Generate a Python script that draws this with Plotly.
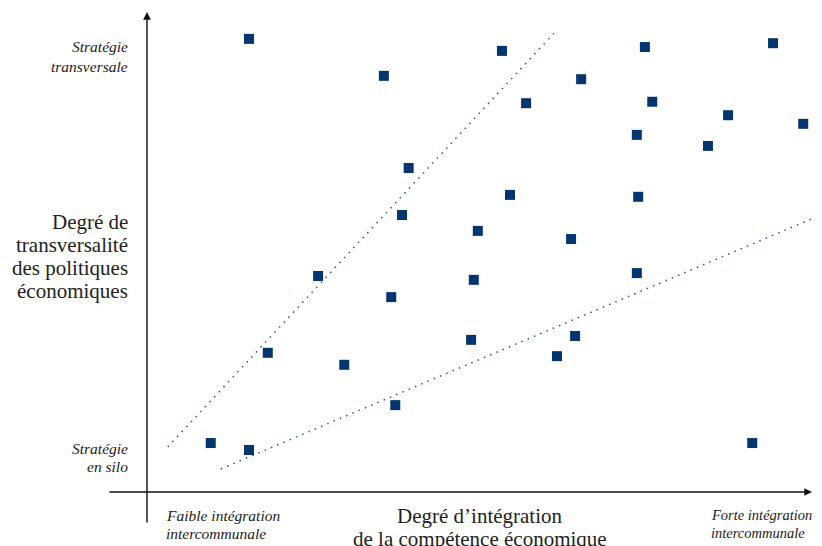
import plotly.graph_objects as go

# Point data (0-100 scale on both axes; axes carry no numeric ticks)
x_vals = [15.2, 35.3, 52.9, 64.7, 74.2, 93.3, 56.5, 75.3, 73.0, 86.6, 97.8, 83.6,
          39.0, 54.1, 73.2, 38.0, 49.3, 63.2, 25.5, 48.7, 73.0, 36.4, 18.0, 48.3,
          63.8, 61.1, 29.4, 37.0, 9.5, 15.2, 90.2]
y_vals = [94.4, 86.7, 91.9, 86.0, 92.7, 93.5, 81.0, 81.3, 74.4, 78.5, 76.7, 72.1,
          67.5, 61.9, 61.5, 57.7, 54.4, 52.7, 45.0, 44.2, 45.6, 40.6, 29.0, 31.7,
          32.5, 28.3, 26.5, 18.1, 10.2, 8.75, 10.2]

# Two dotted guide lines
upper_line_x = [3.1, 60.8]
upper_line_y = [9.4, 95.8]
lower_line_x = [11.0, 99.4]
lower_line_y = [4.8, 57.1]

# Labels (one entry per text line)
y_top_label = ["Stratégie", "transversale"]
y_bottom_label = ["Stratégie", "en silo"]
y_title = ["Degré de", "transversalité", "des politiques", "économiques"]
x_left_label = ["Faible intégration", "intercommunale"]
x_right_label = ["Forte intégration", "intercommunale"]
x_title = ["Degré d’intégration", "de la compétence économique"]

MARK = "#03366f"
LINE = "#2a5596"
TXT = "#222222"
FONT = "Liberation Serif"

# The page places the figure 8px from the window's top-left corner.
OFF = 8
W, H = 822 - OFF, 546 - OFF
PL, PR, PT, PB = 147, 818, 12, 492   # plot area in window pixels


def px_to_paper_x(px):
    return (px - PL) / (PR - PL)


def px_to_paper_y(py):
    return (PB - py) / (PB - PT)


fig = go.Figure()
for lx, ly in [(upper_line_x, upper_line_y), (lower_line_x, lower_line_y)]:
    fig.add_trace(go.Scatter(x=lx, y=ly, mode="lines",
                             line=dict(color=LINE, width=1.5, dash="1.5px,5.3px"),
                             hoverinfo="skip", showlegend=False))
fig.add_trace(go.Scatter(x=x_vals, y=y_vals, mode="markers",
                         marker=dict(symbol="square", size=10, color=MARK,
                                     line=dict(width=0)),
                         cliponaxis=False, showlegend=False))

ann = []
# axis arrows
ann.append(dict(x=0, y=1, xref="paper", yref="paper", ax=0, ay=512, text="",
                showarrow=True, arrowhead=2, arrowsize=1.1, arrowwidth=1.4,
                arrowcolor="#111111", standoff=0))
ann.append(dict(x=px_to_paper_x(812), y=0, xref="paper", yref="paper",
                ax=-704, ay=0, text="",
                showarrow=True, arrowhead=2, arrowsize=1.1, arrowwidth=1.4,
                arrowcolor="#111111", standoff=0))


def lines(texts, px, mids, xanchor, size, italic):
    out = []
    for t, m in zip(texts, mids):
        tt = f"<i>{t}</i>" if italic else t
        out.append(dict(x=px_to_paper_x(px), y=px_to_paper_y(m),
                        xref="paper", yref="paper", text=tt, showarrow=False,
                        xanchor=xanchor, yanchor="middle",
                        font=dict(family=FONT, size=size, color=TXT)))
    return out


ann += lines(y_top_label, 130, [47, 66], "right", 15.5, True)
ann += lines(y_bottom_label, 130, [448, 466], "right", 15.5, True)
ann += lines(y_title, 130, [222, 245, 268, 291], "right", 21, False)
ann += lines(x_left_label, 164, [515, 533], "left", 15.5, True)
ann += lines(x_right_label, 709, [515, 533], "left", 14.5, True)
ann += lines(x_title, 480, [516, 539], "center", 21, False)

fig.update_layout(
    width=W, height=H,
    margin=dict(l=PL - OFF, r=W - (PR - OFF), t=PT - OFF, b=H - (PB - OFF)),
    paper_bgcolor="white", plot_bgcolor="white",
    xaxis=dict(range=[0, 100], visible=False, fixedrange=True),
    yaxis=dict(range=[0, 100], visible=False, fixedrange=True),
    annotations=ann,
    showlegend=False,
)
fig.write_html("out.html")
